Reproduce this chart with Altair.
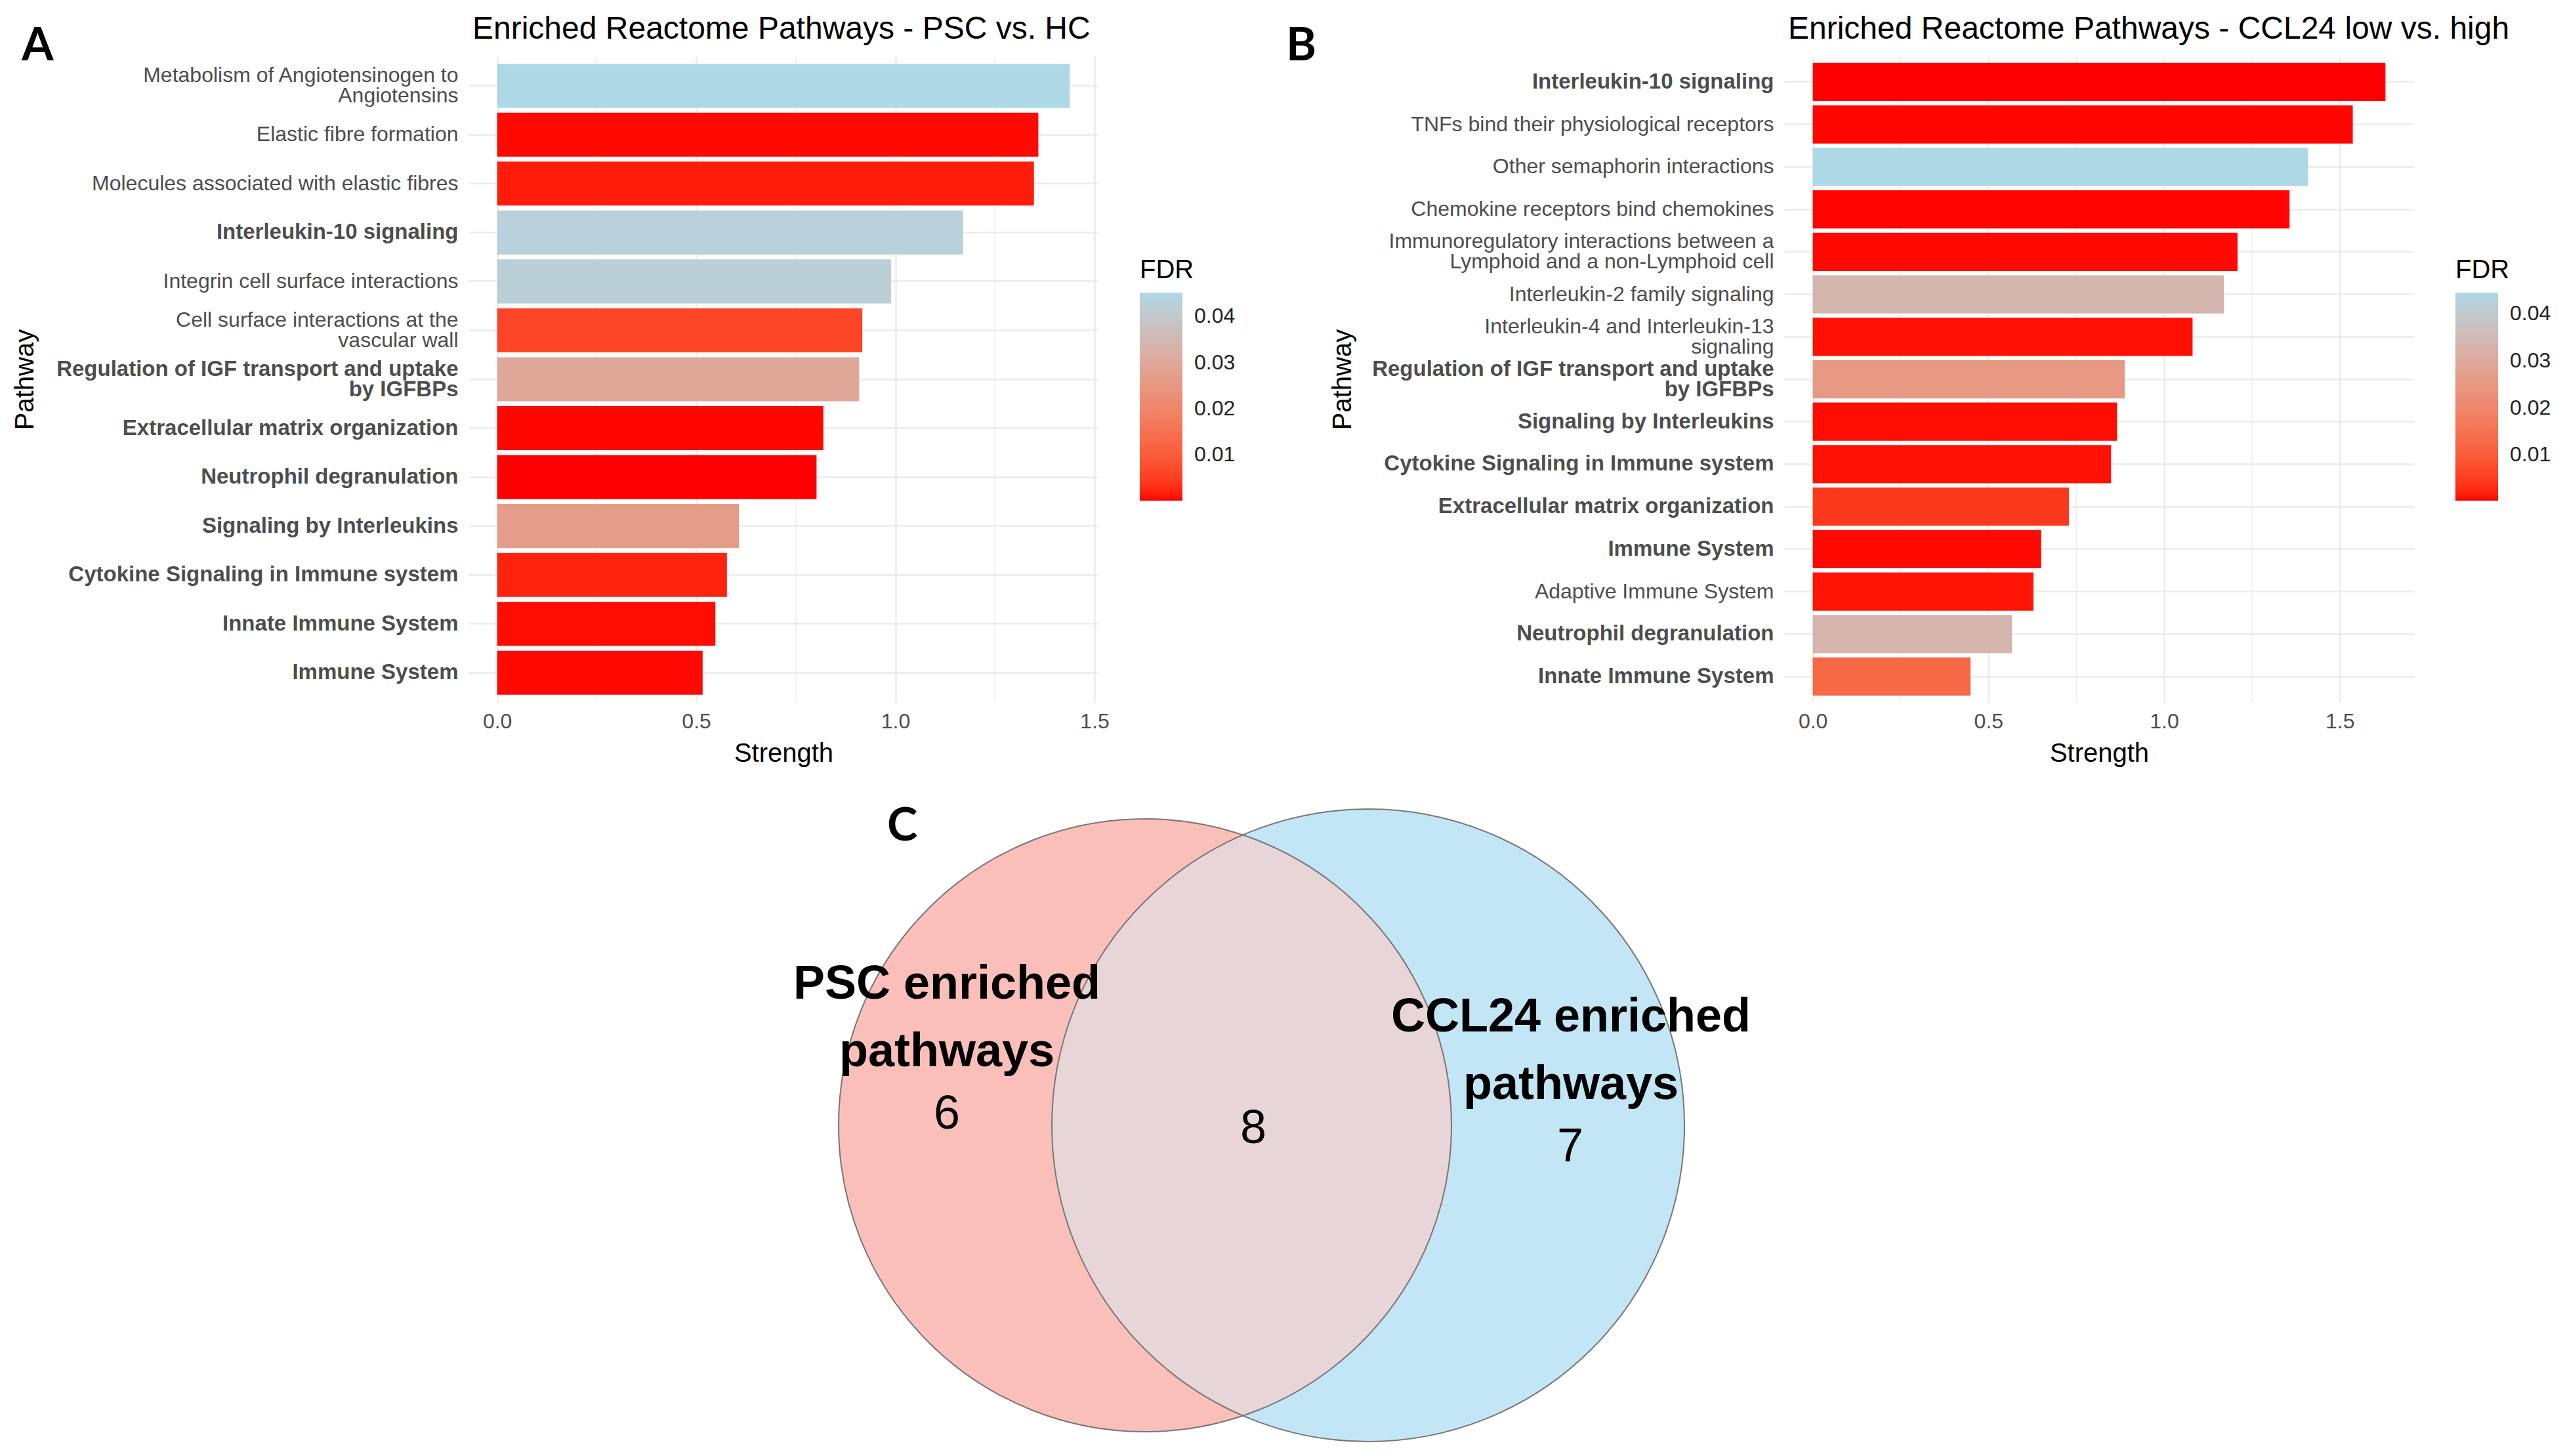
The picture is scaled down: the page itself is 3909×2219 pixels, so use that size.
import json
import altair as alt
import pandas as pd

# ---------------- data: panel A (PSC vs. HC) ----------------
a_pathways = [
    "Metabolism of Angiotensinogen to|Angiotensins",
    "Elastic fibre formation",
    "Molecules associated with elastic fibres",
    "Interleukin-10 signaling",
    "Integrin cell surface interactions",
    "Cell surface interactions at the|vascular wall",
    "Regulation of IGF transport and uptake|by IGFBPs",
    "Extracellular matrix organization",
    "Neutrophil degranulation",
    "Signaling by Interleukins",
    "Cytokine Signaling in Immune system",
    "Innate Immune System",
    "Immune System",
]
a_strength = [1.438, 1.359, 1.348, 1.170, 0.989, 0.917, 0.909, 0.819, 0.802, 0.607, 0.577, 0.548, 0.516]
a_fdr = [0.0452, 0.0003, 0.0013, 0.0428, 0.0423, 0.0059, 0.0296, 0.0002, 0.00002, 0.0267, 0.0018, 0.0004, 0.0003]

# ---------------- data: panel B (CCL24 low vs. high) ----------------
b_pathways = [
    "Interleukin-10 signaling",
    "TNFs bind their physiological receptors",
    "Other semaphorin interactions",
    "Chemokine receptors bind chemokines",
    "Immunoregulatory interactions between a|Lymphoid and a non-Lymphoid cell",
    "Interleukin-2 family signaling",
    "Interleukin-4 and Interleukin-13|signaling",
    "Regulation of IGF transport and uptake|by IGFBPs",
    "Signaling by Interleukins",
    "Cytokine Signaling in Immune system",
    "Extracellular matrix organization",
    "Immune System",
    "Adaptive Immune System",
    "Neutrophil degranulation",
    "Innate Immune System",
]
b_strength = [1.630, 1.537, 1.410, 1.357, 1.209, 1.170, 1.081, 0.888, 0.866, 0.849, 0.729, 0.650, 0.628, 0.567, 0.449]
b_fdr = [0.0003, 0.0005, 0.0445, 0.0004, 0.0006, 0.0339, 0.0008, 0.0253, 0.0007, 0.0009, 0.0044, 0.0006, 0.0010, 0.0334, 0.0127]

# pathways shared by both analyses (bold labels)
shared = [
    "Interleukin-10 signaling",
    "Regulation of IGF transport and uptake|by IGFBPs",
    "Extracellular matrix organization",
    "Neutrophil degranulation",
    "Signaling by Interleukins",
    "Cytokine Signaling in Immune system",
    "Innate Immune System",
    "Immune System",
]

fdr_ticks = [0.01, 0.02, 0.03, 0.04]
major_ticks = [0.0, 0.5, 1.0, 1.5]
minor_ticks = [0.25, 0.75, 1.25]

# ---------------- data: panel C (Venn) ----------------
venn_labels = ["PSC enriched|pathways", "CCL24 enriched|pathways"]
venn_counts = [6, 8, 7]  # PSC only, both, CCL24 only

# ---------------- styling / layout ----------------
FONT = "Liberation Sans"
PW, PH = 960, 984
LABEL_GREY = "#4D4D4D"
GRID = "#EBEBEB"
LINE_H = 31


def panel(pathways, strength, fdr, title, x_domain, letter, letter_x, title_x):
    df = pd.DataFrame({"Pathway": pathways, "Strength": strength, "FDR": fdr})
    xscale = alt.Scale(domain=x_domain, nice=False)
    bold_expr = "indexof(" + json.dumps(shared) + ", datum.value) >= 0"
    yaxis = alt.Axis(
        labelExpr="split(datum.label, '|')",
        labelFontSize={"condition": {"test": bold_expr, "value": 33}, "value": 32},
        labelColor=LABEL_GREY, labelFont=FONT,
        labelFontWeight={"condition": {"test": bold_expr, "value": "bold"}, "value": "normal"},
        labelOffset={"condition": {"test": "indexof(datum.value, '|') >= 0",
                                   "value": -LINE_H / 2}, "value": 0},
        labelLimit=2000, labelLineHeight=LINE_H, labelPadding=16, labelOverlap=False,
        ticks=False, tickSize=0, domain=False,
        grid=True, gridColor=GRID, gridWidth=2.5, bandPosition=0.5,
        title="Pathway", titleX=title_x, titleY=PH / 2, titleAngle=-90,
        titleBaseline="bottom", titleAlign="center",
        titleFontSize=40, titleFontWeight="normal", titleColor="black", titleFont=FONT,
    )
    xaxis = alt.Axis(
        values=major_ticks, format=".1f", labelFontSize=32, labelColor=LABEL_GREY,
        labelFont=FONT, labelPadding=14, labelFlush=False,
        ticks=False, tickSize=0, domain=False,
        grid=True, gridColor=GRID, gridWidth=2.5,
        title="Strength", titleFontSize=40, titleFontWeight="normal",
        titleColor="black", titleFont=FONT, titlePadding=13,
    )
    # minor vertical grid lines (drawn first, behind the bars)
    minor = alt.Chart(pd.DataFrame({"m": minor_ticks})).mark_rule(
        color=GRID, strokeWidth=1.3
    ).encode(x=alt.X("m:Q", scale=xscale, axis=xaxis))
    bars = alt.Chart(df).mark_bar(strokeWidth=0).encode(
        x=alt.X("Strength:Q", scale=xscale, axis=xaxis),
        y=alt.Y("Pathway:N", sort=None,
                scale=alt.Scale(paddingInner=0.1, paddingOuter=0.15), axis=yaxis),
        color=alt.Color(
            "FDR:Q",
            scale=alt.Scale(range=["#ff0000", "#add8e6"], interpolate="lab"),
            legend=alt.Legend(
                title="FDR", orient="none", legendX=1023, legendY=306,
                direction="vertical", gradientLength=317, gradientThickness=65,
                gradientStrokeWidth=0, values=fdr_ticks, format=".2f",
                labelFontSize=32, labelColor="#222222", labelFont=FONT, labelOffset=18,
                titleFontSize=40, titleFontWeight="normal", titleColor="black",
                titleFont=FONT, titlePadding=14,
            ),
        ),
    )
    tag = alt.Chart(pd.DataFrame({"t": [letter]})).mark_text(
        font="Lato", fontSize=70, fontWeight="bold", align="left",
        baseline="alphabetic", color="black",
    ).encode(text="t:N", x=alt.value(letter_x), y=alt.value(6))
    head = alt.Chart(pd.DataFrame({"t": [title]})).mark_text(
        font=FONT, fontSize=48, align="left", baseline="alphabetic", color="black",
    ).encode(text="t:N", x=alt.value(6), y=alt.value(-27))
    return alt.layer(minor, bars, tag, head).properties(width=PW, height=PH)


chart_a = panel(a_pathways, a_strength, a_fdr,
                "Enriched Reactome Pathways - PSC vs. HC",
                [-0.0719, 1.5099], "A", -681, -656)
chart_b = panel(b_pathways, b_strength, b_fdr,
                "Enriched Reactome Pathways - CCL24 low vs. high",
                [-0.0815, 1.7115], "B", -759, -653)

# ---------------- Venn diagram (panel C) ----------------
# coordinates of the diagram are expressed in figure pixels; the panel's
# origin is aligned with the left edge of panel A's plotting area.
CX0, CY0, CW, CH = 714, 1220, 1986, 985
vx = alt.Scale(domain=[CX0, CX0 + CW], nice=False, zero=False)
vy = alt.Scale(domain=[CY0, CY0 + CH], nice=False, zero=False, reverse=True)

circles = pd.DataFrame({
    "set": ["PSC", "CCL24"],
    "cx": [1745, 2085], "cy": [1717, 1717],
    "size": [934 ** 2, 964 ** 2],
    "fill": ["#FBBFB9", "#C2E6F5"],
})
lens_path = "M0,-1 A1.088,1.088 0 0 0 0,1 A1.054,1.054 0 0 0 0,-1 Z"
lens = pd.DataFrame({"cx": [1894], "cy": [1717]})

labels_df = pd.DataFrame({"label": venn_labels, "x": [1443, 2394], "y": [1502, 1552]})
counts_df = pd.DataFrame({"n": [str(c) for c in venn_counts],
                          "x": [1443, 1910, 2393], "y": [1700, 1722, 1750]})

enc_xy = dict(x=alt.X("cx:Q", scale=vx, axis=None), y=alt.Y("cy:Q", scale=vy, axis=None))
fills = alt.Chart(circles).mark_point(filled=True, shape="circle", opacity=1, strokeWidth=0).encode(
    size=alt.Size("size:Q", scale=None, legend=None),
    color=alt.Color("fill:N", scale=None, legend=None), **enc_xy)
lens_mark = alt.Chart(lens).mark_point(filled=True, shape=lens_path, opacity=1, strokeWidth=0,
                                       color="#E8D5D7", size=886 ** 2).encode(**enc_xy)
outlines = alt.Chart(circles).mark_point(filled=False, shape="circle", opacity=1,
                                         strokeWidth=2, color="#777777").encode(
    size=alt.Size("size:Q", scale=None, legend=None), **enc_xy)
set_text = alt.Chart(labels_df).mark_text(
    font=FONT, fontSize=72, fontWeight="bold", lineBreak="|", lineHeight=103,
    align="center", baseline="middle", color="black",
).encode(text="label:N", x=alt.X("x:Q", scale=vx, axis=None), y=alt.Y("y:Q", scale=vy, axis=None))
count_text = alt.Chart(counts_df).mark_text(
    font=FONT, fontSize=72, align="center", baseline="middle", color="black",
).encode(text="n:N", x=alt.X("x:Q", scale=vx, axis=None), y=alt.Y("y:Q", scale=vy, axis=None))
c_tag = alt.Chart(pd.DataFrame({"t": ["C"], "x": [1352], "y": [1283]})).mark_text(
    font="Lato", fontSize=70, fontWeight="bold", align="left", baseline="alphabetic", color="black",
).encode(text="t:N", x=alt.X("x:Q", scale=vx, axis=None), y=alt.Y("y:Q", scale=vy, axis=None))

chart_c = alt.layer(fills, lens_mark, outlines, set_text, count_text, c_tag).properties(
    width=CW, height=CH)

top_row = alt.hconcat(chart_a, chart_b, spacing=77).resolve_scale(color="independent")

chart = alt.vconcat(
    top_row,
    chart_c,
    spacing=50,
).properties(
    padding={"left": 10, "top": 13, "right": 0, "bottom": 0},
    background="white",
).configure(font=FONT).configure_view(stroke=None)

chart.save("out.html", embed_options={"renderer": "svg", "actions": False})
